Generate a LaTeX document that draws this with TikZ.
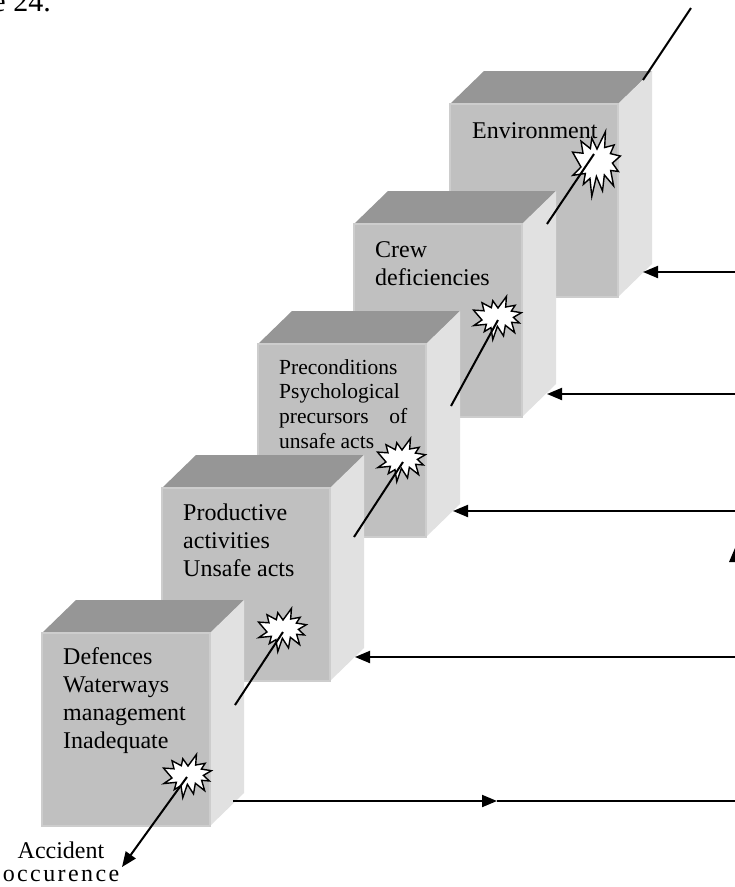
\documentclass[tikz,border=0pt]{standalone}
\usepackage{fontspec}
\setmainfont{Liberation Serif}
\usetikzlibrary{arrows.meta}

\definecolor{cubetop}{HTML}{969696}
\definecolor{cubefront}{HTML}{C0C0C0}
\definecolor{cubeside}{HTML}{E1E1E1}
\definecolor{cubeedge}{HTML}{CDCDCD}

\tikzset{
  cubetopface/.style={fill=cubetop},
  cubesideface/.style={fill=cubeside},
  cubefrontface/.style={fill=cubefront, draw=cubeedge, line width=1.2pt,
    minimum width=168pt, minimum height=193pt, inner sep=0pt, outer sep=0pt,
    anchor=north west},
  burstshape/.style={fill=white, draw=black, line width=1.4pt, line join=miter},
  trail/.style={line width=2pt},
  feed/.style={line width=2pt, -{Triangle[length=15pt,width=12pt]}},
  lbl/.style={inner sep=0pt, anchor=base west, font=\fontsize{24}{28}\selectfont},
}

% a grey cube: name, left x and top y of its front face
\newcommand\cubeblock[3]{%
  \begin{scope}[shift={(#2,#3)}]
    \fill[cubetopface] (0,0) -- (34,-33) -- (202,-33) -- (168,0) -- cycle;
    \fill[cubesideface] (168,0) -- (202,-33) -- (202,160) -- (168,193) -- cycle;
    \node[cubefrontface] (#1) at (0,0) {};
  \end{scope}}

% an explosion mark centred on a point
\newcommand\burst[2][]{%
  \begin{scope}[shift={#2}, xscale=1.02, yscale=0.9, #1]
    \draw[burstshape] (0,-11.1) -- (8.3,-24) -- (7.5,-12.2) -- (16.8,-14.1)
      -- (13.1,-7.7) -- (22.9,-5.9) -- (15.1,-0.7) -- (20.9,5.5) -- (13.4,4.8)
      -- (16.3,16.2) -- (7.2,8.1) -- (5.4,19.9) -- (-0.6,9.2) -- (-5.1,24)
      -- (-6.9,10.7) -- (-13.4,15.1) -- (-11.4,7.0) -- (-23.7,8.4) -- (-15.7,2.2)
      -- (-24,-8.8) -- (-13.7,-8) -- (-15.7,-17) -- (-6.5,-11.4) -- (-5.1,-19.2)
      -- cycle;
  \end{scope}}

\begin{document}
\begin{tikzpicture}[x=1pt, y=-1pt]
\useasboundingbox (0,0) rectangle (735,887);
\fill[white] (0,0) rectangle (735,887);

\node[inner sep=0pt, anchor=base east, font=\fontsize{30}{36}\selectfont] (caption) at (51,11) {e 24.};

% the five layers, back to front
\cubeblock{env}{450}{104}
\node[lbl] (envtxt) at (472,138) {Environment};
\cubeblock{crew}{354}{224}
\node[lbl] (crewtxt) at (375,257) {\begin{tabular}[t]{@{}l@{}}Crew\\deficiencies\end{tabular}};
\cubeblock{pre}{258}{344}
\node[lbl, font=\fontsize{21.5}{24.7}\selectfont] (pretxt) at (279,374)
  {\begin{tabular}[t]{@{}l@{}}Preconditions\\Psychological\\\makebox[128pt][s]{precursors\hfill of}\\unsafe acts\end{tabular}};
\cubeblock{prod}{162}{488}
\node[lbl] (prodtxt) at (183,520) {\begin{tabular}[t]{@{}l@{}}Productive\\activities\\Unsafe acts\end{tabular}};
\cubeblock{def}{42}{633}
\node[lbl] (deftxt) at (63,664) {\begin{tabular}[t]{@{}l@{}}Defences\\Waterways\\management\\Inadequate\end{tabular}};

% holes punched through each layer
\burst[yscale=1.5]{(597,164)}
\burst{(498,318)}
\burst{(402,460)}
\burst{(283,630)}
\burst{(188,776)}

% trajectory of the accident
\coordinate (sky) at (691,8);
\coordinate (env-top) at (643,80);
\coordinate (env-hit) at (594,154);
\coordinate (env-out) at (547,224);
\coordinate (crew-hit) at (498,320);
\coordinate (crew-out) at (451,406);
\coordinate (pre-hit) at (403,462);
\coordinate (pre-out) at (354,537);
\coordinate (prod-hit) at (283,632);
\coordinate (prod-out) at (235,705);
\coordinate (def-hit) at (187,777);
\coordinate (crash) at (122,867);

\draw[trail] (sky) -- (env-top);
\draw[trail] (env-hit) -- (env-out);
\draw[trail] (crew-hit) -- (crew-out);
\draw[trail] (pre-hit) -- (pre-out);
\draw[trail] (prod-hit) -- (prod-out);
\draw[feed] (def-hit) -- (crash);

\node[inner sep=0pt, anchor=base, font=\fontsize{24}{23}\selectfont] (crashtxt) at (61,858)
  {\begin{tabular}[t]{@{}c@{}}Accident\\{\addfontfeature{LetterSpace=10}occurence}\end{tabular}};

% influences entering from the right
\coordinate (r1) at (736,272);
\coordinate (r2) at (736,394);
\coordinate (r3) at (736,511);
\coordinate (r4) at (736,657);
\coordinate (r5) at (736,801);
\coordinate (env-in) at (643,272);
\coordinate (crew-in) at (547,394);
\coordinate (pre-in) at (453,511);
\coordinate (prod-in) at (355,657);
\coordinate (def-out) at (233,801);
\coordinate (def-mid) at (497,801);

\draw[feed] (r1) -- (env-in);
\draw[feed] (r2) -- (crew-in);
\draw[feed] (r3) -- (pre-in);
\draw[feed] (r4) -- (prod-in);
\draw[feed] (def-out) -- (def-mid);
\draw[trail] (def-mid) -- (r5);

% tip of an arrow cut by the right border
\fill (738,541) -- (729,562) -- (747,562) -- cycle;
\end{tikzpicture}
\end{document}
